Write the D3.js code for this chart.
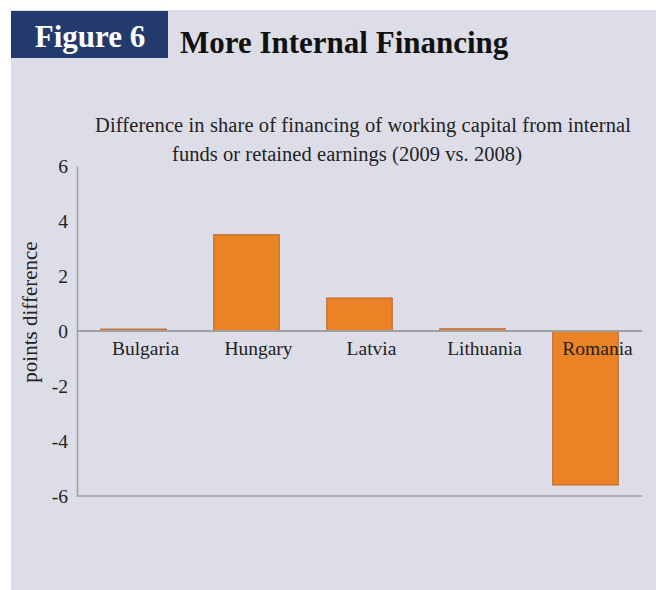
<!DOCTYPE html>
<html>
<head>
<meta charset="utf-8">
<script src="https://cdn.jsdelivr.net/npm/d3@7"></script>
<style>
  body { margin: 0; background: #fff; }
  text { font-family: "Liberation Serif", "DejaVu Serif", serif; }
</style>
</head>
<body>
<div id="chart"></div>
<script>
var countries = ["Bulgaria", "Hungary", "Latvia", "Lithuania", "Romania"];
var diffValues = [0.07, 3.5, 1.2, 0.08, -5.6];
var yTicks = [-6, -4, -2, 0, 2, 4, 6];
var subtitleLines = [
  "Difference in share of financing of working capital from internal",
  "funds or retained earnings (2009 vs. 2008)"
];

var width = 656, height = 590;

var svg = d3.select("#chart").append("svg")
  .attr("width", width)
  .attr("height", height);

// grey panel
svg.append("rect")
  .attr("x", 11).attr("y", 10)
  .attr("width", width - 11).attr("height", height - 10)
  .attr("fill", "#dddde7");

// "Figure 6" tag
svg.append("rect")
  .attr("x", 11).attr("y", 11)
  .attr("width", 157).attr("height", 47)
  .attr("fill", "#223a6e");

svg.append("text")
  .attr("x", 90).attr("y", 47)
  .attr("text-anchor", "middle")
  .attr("fill", "#fff")
  .style("font-size", "31px")
  .style("font-weight", "bold")
  .text("Figure 6");

svg.append("text")
  .attr("x", 180).attr("y", 53)
  .attr("fill", "#111")
  .style("font-size", "31px")
  .style("font-weight", "bold")
  .text("More Internal Financing");

// subtitle
var subWidths = [536, 350];
svg.selectAll(".sub")
  .data(subtitleLines)
  .enter()
  .append("text")
  .attr("class", "sub")
  .attr("x", function(d, i) { return i == 0 ? 363 : 347; })
  .attr("y", function(d, i) { return 132 + i * 29; })
  .attr("text-anchor", "middle")
  .attr("textLength", function(d, i) { return subWidths[i]; })
  .attr("fill", "#222")
  .style("font-size", "20.5px")
  .text(function(d) { return d; });

var x = d3.scaleBand()
  .domain(countries)
  .range([77, 642])
  .paddingInner(0.42)
  .paddingOuter(0.21);

var y = d3.scaleLinear()
  .domain([-6, 6])
  .range([496, 166]);

// bottom border line at -6
svg.append("line")
  .attr("x1", 77).attr("x2", 642)
  .attr("y1", y(-6)).attr("y2", y(-6))
  .attr("stroke", "#a0a0a0")
  .attr("stroke-width", 1.5);

// y axis
var yAxis = svg.append("g")
  .attr("transform", "translate(77,0)")
  .call(d3.axisLeft(y).tickValues(yTicks).tickSize(0).tickPadding(9)
    .tickFormat(function(d) { return String(d); }));
yAxis.select(".domain").attr("stroke", "#a0a0a0").attr("stroke-width", 1.5);
yAxis.selectAll("text")
  .attr("fill", "#222")
  .style("font-family", "'Liberation Serif', serif")
  .style("font-size", "19.5px");

// bars
svg.selectAll(".bar")
  .data(diffValues)
  .enter()
  .append("rect")
  .attr("class", "bar")
  .attr("x", function(d, i) { return x(countries[i]); })
  .attr("y", function(d) { return y(Math.max(0, d)); })
  .attr("width", x.bandwidth())
  .attr("height", function(d) { return Math.abs(y(d) - y(0)); })
  .attr("fill", "#e98325")
  .attr("stroke", "#b8652c")
  .attr("stroke-width", 1);

// zero line
svg.append("line")
  .attr("x1", 77).attr("x2", 642)
  .attr("y1", y(0)).attr("y2", y(0))
  .attr("stroke", "#a0a0a0")
  .attr("stroke-width", 2);

// category labels
svg.selectAll(".cat")
  .data(countries)
  .enter()
  .append("text")
  .attr("class", "cat")
  .attr("x", function(d) { return x(d) + x.bandwidth() / 2 + 12; })
  .attr("y", y(0) + 24)
  .attr("text-anchor", "middle")
  .attr("fill", "#222")
  .style("font-size", "19.5px")
  .text(function(d) { return d; });

// y axis title
svg.append("text")
  .attr("transform", "translate(37,312) rotate(-90)")
  .attr("text-anchor", "middle")
  .attr("fill", "#222")
  .style("font-size", "21px")
  .text("points difference");
</script>
</body>
</html>
